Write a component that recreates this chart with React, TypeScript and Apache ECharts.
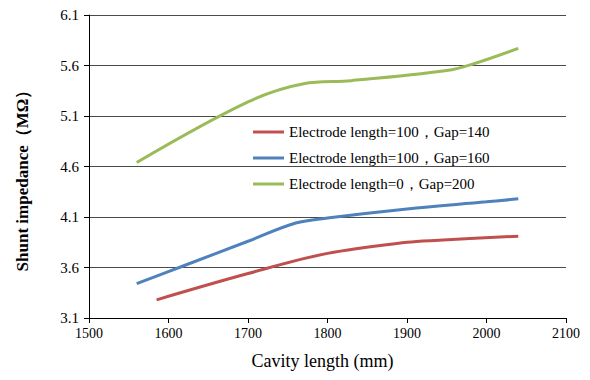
import React, { useEffect, useRef } from "react";
import * as echarts from "echarts";

const seriesNames = [
  "Electrode length=100，Gap=140",
  "Electrode length=100，Gap=160",
  "Electrode length=0，Gap=200",
];
const redData: [number, number][] = [
  [1585, 3.28], [1700, 3.54], [1800, 3.74], [1900, 3.85], [1940, 3.87], [2040, 3.91],
];
const blueData: [number, number][] = [
  [1560, 3.44], [1620, 3.62], [1700, 3.86], [1760, 4.04], [1800, 4.09], [1900, 4.18], [2000, 4.25], [2040, 4.28],
];
const greenData: [number, number][] = [
  [1560, 4.64], [1700, 5.24], [1770, 5.42], [1830, 5.45], [1950, 5.55], [1985, 5.62], [2040, 5.77],
];
const yTicks = [3.1, 3.6, 4.1, 4.6, 5.1, 5.6, 6.1];
const colors = ["#C0504D", "#4F81BD", "#9BBB59"];
const FONT = "Liberation Serif";

export default function App() {
  const ref = useRef<HTMLDivElement>(null);
  useEffect(() => {
    document.body.style.margin = "0";
    const chart = echarts.init(ref.current!, null, { renderer: "svg" });
    const datas = [redData, blueData, greenData];
    chart.setOption({
      animation: false,
      color: colors,
      grid: { left: 89, right: 24, top: 15, bottom: 62 },
      legend: {
        orient: "vertical",
        left: 248,
        top: 118,
        itemWidth: 31,
        itemHeight: 3,
        itemGap: 8,
        icon: "rect",
        textStyle: { fontFamily: FONT, fontSize: 15, color: "#000", lineHeight: 18 },
        data: seriesNames,
      },
      xAxis: {
        type: "value",
        min: 1500,
        max: 2100,
        interval: 100,
        name: "Cavity length (mm)",
        nameLocation: "middle",
        nameGap: 34,
        nameTextStyle: { fontFamily: FONT, fontSize: 18, color: "#000", padding: [0, 10, 0, 0] },
        axisLine: { lineStyle: { color: "#000", width: 1 } },
        axisTick: { show: true, inside: false, length: 5, lineStyle: { color: "#000" } },
        axisLabel: {
          fontFamily: FONT,
          fontSize: 14,
          color: "#000",
          margin: 8,
          formatter: (v: number) => String(v),
        },
        splitLine: { show: false },
      },
      yAxis: {
        type: "value",
        min: 3.1,
        max: 6.1,
        name: "Shunt impedance（MΩ）",
        nameLocation: "middle",
        nameGap: 58,
        nameTextStyle: {
          fontFamily: FONT,
          fontSize: 17,
          fontWeight: "bold",
          color: "#000",
          padding: [0, 20, 0, 0],
        },
        axisLine: { show: true, lineStyle: { color: "#000", width: 1 } },
        axisTick: { show: true, inside: false, length: 5, lineStyle: { color: "#000" }, customValues: yTicks },
        axisLabel: {
          fontFamily: FONT,
          fontSize: 15,
          color: "#000",
          margin: 10,
          customValues: yTicks,
          formatter: (v: number) => v.toFixed(1),
        },
        splitLine: { show: true, lineStyle: { color: "#4a4a4a", width: 1 } },
      },
      series: seriesNames.map((name, i) => ({
        name,
        type: "line",
        data: datas[i],
        smooth: 0.35,
        showSymbol: false,
        symbol: "none",
        lineStyle: { width: 3, color: colors[i] },
        itemStyle: { color: colors[i] },
      })),
    });
    return () => chart.dispose();
  }, []);
  return <div ref={ref} style={{ width: 590, height: 380 }} />;
}
